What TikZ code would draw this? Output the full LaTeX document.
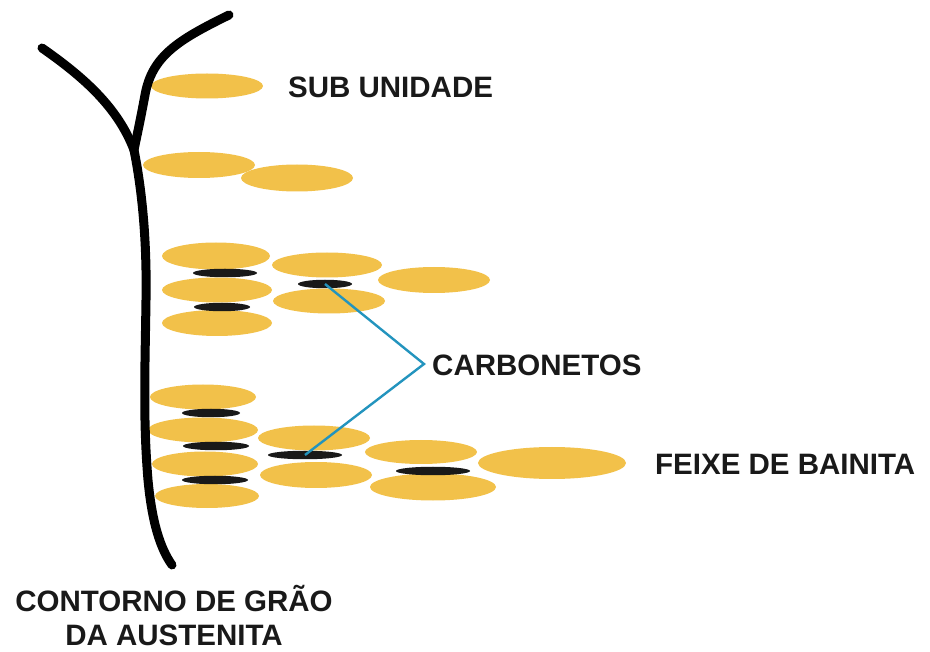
\documentclass[tikz,border=0pt]{standalone}
\usepackage{fontspec}
\setmainfont{Liberation Sans}
\usetikzlibrary{shapes.geometric}
\definecolor{ferrite}{RGB}{242,193,74}
\definecolor{leader}{RGB}{35,148,190}
\tikzset{
  plate/.style={ellipse, fill=ferrite, inner sep=0pt, outer sep=0pt},
  carbide/.style={ellipse, fill=black!90, inner sep=0pt, outer sep=0pt, minimum height=8.5},
  boundary/.style={line width=9pt, line cap=round, draw=black},
  label/.style={font=\bfseries\fontsize{29.5}{34}\selectfont, inner sep=0pt, text=black!90},
  pointer/.style={draw=leader, line width=2.4pt}
}
\begin{document}
\begin{tikzpicture}[x=1pt, y=-1pt]
\useasboundingbox (0,0) rectangle (930,652);

% sub-units near the top
\node[plate, minimum width=112, minimum height=25] (s1) at (207,86) {};
\node[plate, minimum width=112, minimum height=26] (s2) at (199,165) {};
\node[plate, minimum width=112, minimum height=27] (s3) at (297,178) {};

% upper packet
\node[plate, minimum width=108, minimum height=27] (a1) at (216,256) {};
\node[plate, minimum width=110, minimum height=25] (a2) at (217,290) {};
\node[plate, minimum width=110, minimum height=26] (a3) at (217,323) {};
\node[plate, minimum width=110, minimum height=25] (a4) at (327,265) {};
\node[plate, minimum width=112, minimum height=25] (a5) at (329,301) {};
\node[plate, minimum width=112, minimum height=26] (a6) at (434,280) {};
\node[carbide, minimum width=64] (ac1) at (225,273) {};
\node[carbide, minimum width=56] (ac2) at (222,307) {};
\node[carbide, minimum width=54] (ac3) at (325,284) {};

% lower packet (sheaf)
\node[plate, minimum width=106, minimum height=25] (b1) at (203,397) {};
\node[plate, minimum width=110, minimum height=25] (b2) at (203,430) {};
\node[plate, minimum width=106, minimum height=25] (b3) at (205,464) {};
\node[plate, minimum width=104, minimum height=24] (b4) at (207,496) {};
\node[plate, minimum width=112, minimum height=25] (b5) at (314,438) {};
\node[plate, minimum width=112, minimum height=26] (b6) at (316,475) {};
\node[plate, minimum width=112, minimum height=24] (b7) at (421,452) {};
\node[plate, minimum width=126, minimum height=27] (b8) at (433,487) {};
\node[plate, minimum width=148, minimum height=32] (b9) at (552,463) {};
\node[carbide, minimum width=58] (bc1) at (211,413) {};
\node[carbide, minimum width=66] (bc2) at (216,446) {};
\node[carbide, minimum width=66] (bc3) at (215,480) {};
\node[carbide, minimum width=74] (bc4) at (305,455) {};
\node[carbide, minimum width=74] (bc5) at (433,471) {};

% austenite grain boundary
\draw[boundary] (42,48) .. controls (85,78) and (118,108) .. (134,150);
\draw[boundary] (229,15) .. controls (178,40) and (152,56) .. (145,95)
  .. controls (140,122) and (136,140) .. (134,150);
\draw[boundary] (134,150) .. controls (142,190) and (147,240) .. (146,300)
  .. controls (145,370) and (143,420) .. (148,480)
  .. controls (152,522) and (160,548) .. (172,565);

% labels
\node[label, anchor=west] (tsub) at (288,87) {SUB UNIDADE};
\node[label, anchor=west] (tcarb) at (432,365) {CARBONETOS};
\node[label, anchor=west] (tfeixe) at (655,464) {FEIXE DE BAINITA};
\node[label, align=center] (tcont) at (174,616) {CONTORNO DE GRÃO\\DA AUSTENITA};

% carbide leaders
\coordinate (j) at (424,364);
\draw[pointer] (ac3.center) -- (j) -- (bc4.center);
\end{tikzpicture}
\end{document}
